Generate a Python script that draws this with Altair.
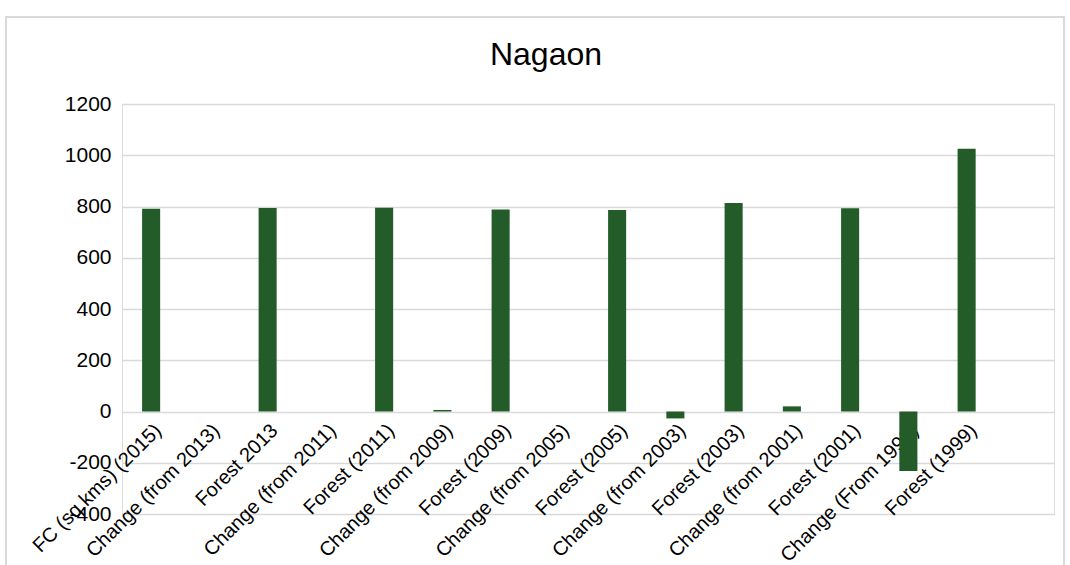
import altair as alt
import pandas as pd

# Forest cover (sq km) for Nagaon district and the change between assessments
categories = [
    "FC (sq kms) (2015)",
    "Change (from 2013)",
    "Forest 2013",
    "Change (from 2011)",
    "Forest (2011)",
    "Change (from 2009)",
    "Forest (2009)",
    "Change (from 2005)",
    "Forest (2005)",
    "Change (from 2003)",
    "Forest (2003)",
    "Change (from 2001)",
    "Forest (2001)",
    "Change (From 1999)",
    "Forest (1999)",
]
values = [791, 0, 794, 0, 795, 6, 788, 0, 786, -27, 814, 20, 793, -232, 1025]
y_ticks = [-400, -200, 0, 200, 400, 600, 800, 1000, 1200]

# one trailing empty slot on the category axis
x_domain = categories + [""]

df = pd.DataFrame({"category": categories, "value": values})

FONT = "Liberation Sans"
BAR = "#235B29"

bars = alt.Chart(df).mark_bar(color=BAR).encode(
    x=alt.X(
        "category:N",
        sort=x_domain,
        scale=alt.Scale(domain=x_domain, paddingInner=0.69, paddingOuter=0.345),
        axis=alt.Axis(
            title=None,
            grid=False,
            domain=False,
            ticks=False,
            offset=-102,
            labelAngle=-45,
            labelAlign="right",
            labelBaseline="top",
            labelPadding=8,
            labelFont=FONT,
            labelFontSize=20,
            labelColor="#000000",
            labelOverlap=False,
            labelLimit=0,
        ),
    ),
    y=alt.Y(
        "value:Q",
        scale=alt.Scale(domain=[-400, 1200], nice=False, zero=False),
        axis=alt.Axis(
            title=None,
            values=y_ticks,
            labelExpr="datum.value + ''",
            domain=False,
            ticks=False,
            labelPadding=11,
            labelFont=FONT,
            labelFontSize=21,
            labelColor="#000000",
            gridColor="#d9d9d9",
            gridWidth=1.5,
        ),
    ),
)

# light chart-area border
frame = alt.Chart(df).mark_rect(
    fill=None, stroke="#d9d9d9", strokeWidth=1.5
).encode(
    x=alt.value(-116),
    x2=alt.value(942),
    y=alt.value(-87),
    y2=alt.value(470),
)

chart = alt.layer(frame, bars).properties(
    width=932,
    height=410,
    padding={"left": 122, "top": 104, "right": 16, "bottom": 51},
    autosize=alt.AutoSizeParams(type="none"),
    title=alt.TitleParams(
        "Nagaon",
        font=FONT,
        fontSize=32,
        fontWeight="normal",
        color="#000000",
        anchor="middle",
        dx=-42,
        offset=-56,
    ),
).configure_view(strokeWidth=0).configure(background="white")

chart.save("out.html", embed_options={"renderer": "svg", "actions": False})
